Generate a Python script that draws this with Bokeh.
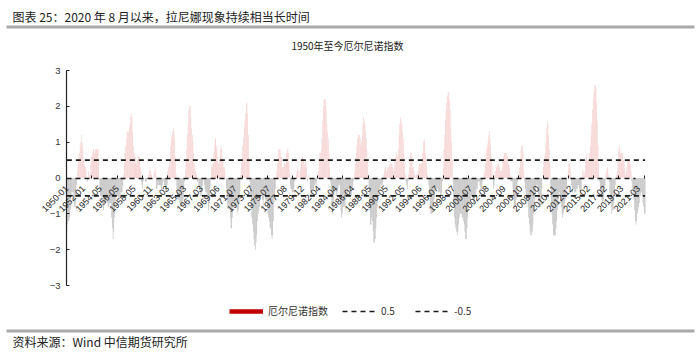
import numpy as np
from bokeh.plotting import figure
from bokeh.models import (Range1d, FixedTicker, Label, BoxAnnotation, Legend,
                          LegendItem, ColumnDataSource)
from bokeh.embed import file_html
from bokeh.resources import INLINE

# Monthly index values (1950-01 .. 2021-12), one decade per list
oni_1950s = [
    -1.5, -1.3, -1.2, -1.2, -1.1, -0.9, -0.5, -0.4, -0.4, -0.4, -0.6, -0.8,
    -0.8, -0.5, -0.2, 0.2, 0.4, 0.6, 0.7, 0.9, 1.0, 1.2, 1.0, 0.8,
    0.5, 0.4, 0.3, 0.3, 0.2, 0.0, -0.1, 0.0, 0.2, 0.1, 0.0, 0.1,
    0.4, 0.6, 0.6, 0.7, 0.8, 0.8, 0.7, 0.7, 0.8, 0.8, 0.8, 0.8,
    0.8, 0.5, 0.0, -0.4, -0.5, -0.5, -0.6, -0.8, -0.9, -0.8, -0.7, -0.7,
    -0.7, -0.6, -0.7, -0.8, -0.8, -0.7, -0.7, -0.7, -1.1, -1.4, -1.7, -1.5,
    -1.1, -0.8, -0.6, -0.5, -0.5, -0.5, -0.6, -0.6, -0.5, -0.4, -0.4, -0.4,
    -0.2, 0.1, 0.4, 0.7, 0.9, 1.1, 1.3, 1.3, 1.3, 1.4, 1.5, 1.7,
    1.8, 1.7, 1.3, 0.9, 0.7, 0.6, 0.6, 0.4, 0.4, 0.4, 0.5, 0.6,
    0.6, 0.6, 0.5, 0.3, 0.2, -0.1, -0.2, -0.3, -0.1, 0.0, 0.0, 0.0,
]
oni_1960s = [
    -0.1, -0.1, -0.1, 0.0, 0.0, 0.0, 0.1, 0.2, 0.3, 0.2, 0.1, 0.1,
    0.0, 0.0, 0.0, 0.1, 0.2, 0.3, 0.1, -0.3, -0.3, -0.2, -0.1, -0.2,
    -0.2, -0.2, -0.2, -0.3, -0.3, -0.2, 0.0, -0.1, -0.1, -0.2, -0.3, -0.4,
    -0.4, -0.2, 0.2, 0.3, 0.3, 0.5, 0.9, 1.1, 1.2, 1.3, 1.4, 1.3,
    1.1, 0.6, 0.1, -0.3, -0.6, -0.6, -0.6, -0.7, -0.8, -0.8, -0.8, -0.8,
    -0.6, -0.3, -0.1, 0.2, 0.5, 0.8, 1.2, 1.5, 1.9, 2.0, 2.0, 1.7,
    1.4, 1.2, 1.0, 0.7, 0.4, 0.2, 0.2, 0.1, -0.1, -0.1, -0.2, -0.3,
    -0.4, -0.5, -0.5, -0.4, -0.2, 0.0, 0.0, -0.2, -0.3, -0.4, -0.4, -0.5,
    -0.6, -0.9, -0.8, -0.7, -0.3, 0.0, 0.3, 0.4, 0.3, 0.4, 0.7, 0.9,
    1.1, 1.1, 0.9, 0.8, 0.6, 0.4, 0.4, 0.5, 0.8, 0.9, 0.8, 0.6,
]
oni_1970s = [
    0.5, 0.3, 0.3, 0.2, 0.0, -0.3, -0.6, -0.8, -0.8, -0.7, -0.9, -1.1,
    -1.4, -1.4, -1.1, -0.8, -0.7, -0.7, -0.8, -0.8, -0.8, -0.9, -1.0, -0.9,
    -0.7, -0.4, 0.1, 0.4, 0.7, 0.9, 1.1, 1.4, 1.6, 1.8, 2.1, 2.1,
    1.8, 1.2, 0.5, -0.1, -0.5, -0.9, -1.1, -1.3, -1.5, -1.7, -1.9, -2.0,
    -1.8, -1.6, -1.2, -1.0, -0.9, -0.8, -0.5, -0.4, -0.4, -0.6, -0.8, -0.6,
    -0.5, -0.6, -0.7, -0.7, -0.8, -1.0, -1.1, -1.2, -1.4, -1.4, -1.6, -1.7,
    -1.6, -1.2, -0.7, -0.5, -0.3, 0.0, 0.2, 0.4, 0.6, 0.8, 0.8, 0.8,
    0.6, 0.6, 0.3, 0.3, 0.3, 0.4, 0.4, 0.4, 0.5, 0.7, 0.8, 0.8,
    0.7, 0.4, 0.1, -0.2, -0.3, -0.3, -0.4, -0.4, -0.4, -0.3, -0.1, 0.0,
    0.0, 0.1, 0.2, 0.3, 0.2, 0.0, 0.0, 0.2, 0.3, 0.5, 0.5, 0.6,
]
oni_1980s = [
    0.6, 0.5, 0.3, 0.4, 0.5, 0.5, 0.3, 0.0, -0.1, 0.0, 0.1, 0.0,
    -0.3, -0.5, -0.5, -0.4, -0.3, -0.3, -0.3, -0.2, -0.2, -0.1, -0.2, -0.1,
    0.0, 0.1, 0.2, 0.5, 0.7, 0.7, 0.8, 1.1, 1.6, 2.0, 2.2, 2.2,
    2.2, 1.9, 1.5, 1.3, 1.1, 0.7, 0.3, -0.1, -0.5, -0.8, -1.0, -0.9,
    -0.6, -0.4, -0.3, -0.4, -0.5, -0.4, -0.3, -0.2, -0.2, -0.6, -0.9, -1.1,
    -1.0, -0.8, -0.8, -0.8, -0.8, -0.6, -0.5, -0.5, -0.4, -0.3, -0.3, -0.4,
    -0.5, -0.5, -0.3, -0.2, -0.1, 0.0, 0.2, 0.4, 0.7, 0.9, 1.1, 1.2,
    1.2, 1.2, 1.1, 0.9, 1.0, 1.2, 1.5, 1.7, 1.6, 1.5, 1.3, 1.1,
    0.8, 0.5, 0.1, -0.3, -0.9, -1.3, -1.3, -1.1, -1.2, -1.5, -1.8, -1.8,
    -1.7, -1.4, -1.1, -0.8, -0.6, -0.4, -0.3, -0.3, -0.2, -0.2, -0.2, -0.1,
]
oni_1990s = [
    0.1, 0.2, 0.3, 0.3, 0.2, 0.2, 0.3, 0.3, 0.4, 0.3, 0.4, 0.4,
    0.4, 0.3, 0.2, 0.3, 0.5, 0.6, 0.7, 0.6, 0.6, 0.8, 1.2, 1.5,
    1.7, 1.6, 1.5, 1.3, 1.1, 0.7, 0.4, 0.1, -0.1, -0.2, -0.3, -0.1,
    0.1, 0.3, 0.5, 0.7, 0.7, 0.6, 0.3, 0.3, 0.2, 0.1, 0.0, 0.1,
    0.1, 0.1, 0.2, 0.3, 0.4, 0.4, 0.4, 0.4, 0.6, 0.7, 1.0, 1.1,
    1.0, 0.7, 0.5, 0.3, 0.1, 0.0, -0.2, -0.5, -0.8, -1.0, -1.0, -1.0,
    -0.9, -0.8, -0.6, -0.4, -0.3, -0.3, -0.3, -0.3, -0.4, -0.4, -0.4, -0.5,
    -0.5, -0.4, -0.1, 0.3, 0.8, 1.2, 1.6, 1.9, 2.1, 2.3, 2.4, 2.4,
    2.2, 1.9, 1.4, 1.0, 0.5, -0.1, -0.8, -1.1, -1.3, -1.4, -1.5, -1.6,
    -1.5, -1.3, -1.1, -1.0, -1.0, -1.0, -1.1, -1.1, -1.2, -1.3, -1.5, -1.7,
]
oni_2000s = [
    -1.7, -1.4, -1.1, -0.8, -0.7, -0.6, -0.6, -0.5, -0.5, -0.6, -0.7, -0.7,
    -0.7, -0.5, -0.4, -0.3, -0.3, -0.1, -0.1, -0.1, -0.2, -0.3, -0.3, -0.3,
    -0.1, 0.0, 0.1, 0.2, 0.4, 0.7, 0.8, 0.9, 1.0, 1.2, 1.3, 1.1,
    0.9, 0.6, 0.4, 0.0, -0.3, -0.2, 0.1, 0.2, 0.3, 0.3, 0.4, 0.4,
    0.4, 0.3, 0.2, 0.2, 0.2, 0.3, 0.5, 0.6, 0.7, 0.7, 0.7, 0.7,
    0.6, 0.6, 0.4, 0.4, 0.3, 0.1, -0.1, -0.1, -0.1, -0.3, -0.6, -0.8,
    -0.9, -0.8, -0.6, -0.4, -0.1, 0.0, 0.1, 0.3, 0.5, 0.8, 0.9, 0.9,
    0.7, 0.2, -0.1, -0.3, -0.4, -0.5, -0.6, -0.8, -1.1, -1.3, -1.5, -1.6,
    -1.6, -1.5, -1.3, -1.0, -0.8, -0.6, -0.4, -0.2, -0.2, -0.4, -0.6, -0.7,
    -0.8, -0.8, -0.6, -0.3, 0.0, 0.3, 0.5, 0.6, 0.7, 1.0, 1.4, 1.6,
]
oni_2010s = [
    1.5, 1.2, 0.8, 0.4, -0.2, -0.7, -1.0, -1.3, -1.6, -1.6, -1.6, -1.6,
    -1.4, -1.2, -0.9, -0.7, -0.6, -0.4, -0.5, -0.6, -0.8, -1.0, -1.1, -1.0,
    -0.9, -0.7, -0.6, -0.5, -0.3, 0.0, 0.2, 0.4, 0.4, 0.3, 0.1, -0.2,
    -0.4, -0.4, -0.3, -0.3, -0.4, -0.4, -0.4, -0.3, -0.3, -0.2, -0.2, -0.3,
    -0.4, -0.5, -0.3, 0.0, 0.2, 0.2, 0.0, 0.1, 0.2, 0.5, 0.6, 0.7,
    0.5, 0.5, 0.5, 0.7, 0.9, 1.2, 1.5, 1.9, 2.2, 2.4, 2.6, 2.6,
    2.5, 2.1, 1.6, 0.9, 0.4, -0.1, -0.4, -0.5, -0.6, -0.7, -0.7, -0.6,
    -0.3, -0.2, 0.1, 0.2, 0.3, 0.3, 0.1, -0.1, -0.4, -0.7, -0.8, -1.0,
    -0.9, -0.9, -0.7, -0.5, -0.2, 0.0, 0.1, 0.2, 0.5, 0.8, 0.9, 0.8,
    0.7, 0.7, 0.7, 0.7, 0.5, 0.5, 0.3, 0.1, 0.2, 0.3, 0.5, 0.5,
]
oni_2020s = [
    0.5, 0.5, 0.4, 0.2, -0.1, -0.3, -0.4, -0.6, -0.9, -1.2, -1.3, -1.2,
    -1.0, -0.9, -0.8, -0.7, -0.5, -0.4, -0.4, -0.5, -0.7, -0.8, -1.0, -1.0,
]

tick_labels = [
    "1950-01", "1952-01", "1954-05", "1956-05", "1958-05", "1960-11", "1963-03",
    "1965-03", "1967-03", "1969-06", "1971-07", "1973-07", "1975-07", "1977-08",
    "1979-12", "1982-04", "1984-04", "1986-04", "1988-05", "1990-05", "1992-05",
    "1994-06", "1996-07", "1998-07", "2000-07", "2002-08", "2004-09", "2006-10",
    "2008-10", "2010-11", "2012-12", "2015-02", "2017-02", "2019-03", "2021-03",
]
y_ticks = [-3, -2, -1, 0, 1, 2, 3]
threshold_hi = 0.5
threshold_lo = -0.5

series_name = "厄尔尼诺指数"
chart_title = "图表 25：2020 年 8 月以来，拉尼娜现象持续相当长时间"
sub_title = "1950年至今厄尔尼诺指数"
source_note = "资料来源：Wind 中信期货研究所"

# ---------------------------------------------------------------------------
values = np.array(oni_1950s + oni_1960s + oni_1970s + oni_1980s + oni_1990s
                  + oni_2000s + oni_2010s + oni_2020s)
months = np.arange(len(values))
label_months = [(int(s[:4]) - 1950) * 12 + int(s[5:]) - 1 for s in tick_labels]
SLOT = 25  # one category label every 25 categories
slots = [k * SLOT for k in range(len(tick_labels))]
xm = label_months + [label_months[-1] + 24]
xs = slots + [slots[-1] + SLOT]
xpos = np.interp(months, xm, xs)

pos = values >= 0
src_pos = ColumnDataSource(dict(x=xpos[pos], top=values[pos]))
src_neg = ColumnDataSource(dict(x=xpos[~pos], top=values[~pos]))

# Layout: the frame fills the whole canvas; the plotting area sits inside it
W, H = 700, 353
PL, PR, PT, PB = 66, 645, 70, 285          # plotting area in canvas pixels
X0, X1, Y0, Y1 = -0.5, 860.0, -3.0, 3.0    # data values at its edges
ux = (X1 - X0) / (PR - PL)
uy = (Y1 - Y0) / (PB - PT)
x_range = Range1d(X0 - PL * ux, X1 + (W - PR) * ux)
y_range = Range1d(Y0 - (H - PB) * uy, Y1 + PT * uy)

p = figure(width=W, height=H, output_backend="svg", toolbar_location=None,
           x_range=x_range, y_range=y_range,
           min_border=0, min_border_left=0, min_border_right=0,
           min_border_top=0, min_border_bottom=0)
p.background_fill_color = "white"
p.border_fill_color = "white"
p.outline_line_color = None
p.xgrid.visible = False
p.ygrid.visible = False

p.vbar(x="x", top="top", bottom=0, width=0.8, source=src_pos,
       fill_color="#f4c9c9", line_color=None)
p.vbar(x="x", top="top", bottom=0, width=0.8, source=src_neg,
       fill_color="#b3b3b3", line_color=None)

r_hi = p.line(xpos, np.full(len(xpos), threshold_hi), line_color="#1a1a1a",
              line_width=1.6, line_dash="5 4")
r_lo = p.line(xpos, np.full(len(xpos), threshold_lo), line_color="#1a1a1a",
              line_width=1.6, line_dash="5 4")
# legend swatch for the index series (no visible points of its own)
r_leg = p.line(xpos[:2], np.full(2, np.nan), line_color="#c00000", line_width=4.5)

# y axis
ya = p.yaxis[0]
ya.fixed_location = X0
ya.bounds = (Y0, Y1)
ya.ticker = FixedTicker(ticks=y_ticks)
ya.major_label_overrides = {t: (str(t) if t >= 0 else "\u2212" + str(-t)) for t in y_ticks}
ya.major_label_text_font = "Liberation Sans"
ya.major_label_text_font_size = "9.5px"
ya.major_label_text_color = "#333333"
ya.axis_line_color = "#222222"
ya.axis_line_width = 1.2
ya.major_tick_in = 3
ya.major_tick_out = 0
ya.major_tick_line_color = "#222222"
ya.minor_tick_line_color = None
ya.major_label_standoff = 6

# x axis at zero
xa = p.xaxis[0]
xa.fixed_location = 0
xa.bounds = (X0, X1 - 15)
xa.ticker = FixedTicker(ticks=slots, minor_ticks=list(np.arange(0, 860, 37.3)))
xa.major_label_overrides = {s: lab for s, lab in zip(slots, tick_labels)}
xa.major_label_orientation = np.pi / 4
xa.major_label_text_font = "Liberation Sans"
xa.major_label_text_font_size = "9px"
xa.major_label_text_color = "#222222"
xa.major_label_standoff = 3
xa.major_tick_line_color = None
xa.minor_tick_in = 3
xa.minor_tick_out = 0
xa.minor_tick_line_color = "#222222"
xa.axis_line_color = "#1a1a1a"
xa.axis_line_width = 1.6
xa.axis_line_dash = "5 4"

# screen units are measured from the frame's bottom-left = canvas bottom-left
legend = Legend(items=[LegendItem(label=series_name, renderers=[r_leg]),
                       LegendItem(label="0.5", renderers=[r_hi]),
                       LegendItem(label="-0.5", renderers=[r_lo])],
                orientation="horizontal", location=(229, H - 318),
                glyph_width=34, glyph_height=12, label_standoff=5, spacing=14,
                padding=0, margin=0, border_line_color=None,
                background_fill_alpha=0, label_text_font="Noto Sans CJK SC",
                label_text_font_size="10px", label_text_color="#333333")
p.add_layout(legend, "center")

p.add_layout(Label(x=12, y=H - 16, x_units="screen", y_units="screen",
                   text=chart_title, text_font="Noto Sans CJK SC",
                   text_font_size="12px", text_color="#222222",
                   text_baseline="middle"))
p.add_layout(Label(x=347, y=H - 45, x_units="screen", y_units="screen",
                   text=sub_title, text_font="Noto Sans CJK SC",
                   text_font_size="10px", text_color="#222222",
                   text_align="center", text_baseline="middle"))
p.add_layout(Label(x=12, y=H - 341, x_units="screen", y_units="screen",
                   text=source_note, text_font="Noto Sans CJK SC",
                   text_font_size="12px", text_color="#222222",
                   text_baseline="middle"))
for top_px in (25, 329):
    p.add_layout(BoxAnnotation(left=6, right=694,
                               top=H - top_px, bottom=H - top_px - 3,
                               left_units="screen", right_units="screen",
                               top_units="screen", bottom_units="screen",
                               fill_color="#a9a9a9", fill_alpha=1,
                               line_color=None))

open("out.html", "w").write(file_html(p, INLINE))
